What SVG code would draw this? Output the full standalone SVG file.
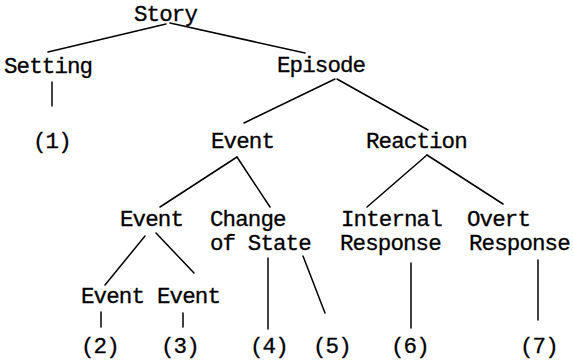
<svg xmlns="http://www.w3.org/2000/svg" width="573" height="361" viewBox="0 0 573 361">
<style>
text{font-family:"Liberation Mono","Courier New",monospace;font-size:22.5px;letter-spacing:-0.9px;fill:#000;stroke:#000;stroke-width:0.3}
.c line{stroke:#000;stroke-width:1.5;stroke-linecap:round}
</style>
<rect width="573" height="361" fill="#fff"/>
<g class="c" id="connectors">
<line x1="166" y1="24" x2="48" y2="52"/>
<line x1="170" y1="23" x2="305" y2="53"/>
<line x1="52" y1="82" x2="52" y2="106"/>
<line x1="335" y1="79" x2="244" y2="123"/>
<line x1="337" y1="79" x2="428" y2="130"/>
<line x1="237" y1="157" x2="160" y2="207"/>
<line x1="237" y1="157" x2="270" y2="207"/>
<line x1="427" y1="155" x2="367" y2="207"/>
<line x1="427" y1="155" x2="503" y2="204"/>
<line x1="145" y1="236" x2="105" y2="285"/>
<line x1="156" y1="233" x2="194" y2="273"/>
<line x1="268" y1="258" x2="268" y2="329"/>
<line x1="303" y1="256" x2="325" y2="313"/>
<line x1="411" y1="263" x2="411" y2="328"/>
<line x1="538" y1="260" x2="538" y2="320"/>
<line x1="101" y1="312" x2="101" y2="327" stroke-width="1.2"/>
<line x1="183" y1="313" x2="183" y2="327" stroke-width="1.2"/>
</g>
<g id="story"><text x="134" y="21">Story</text></g>
<g id="setting"><text x="4" y="73">Setting</text></g>
<g id="episode"><text x="277" y="72">Episode</text></g>
<g id="t1"><text x="33" y="148">(1)</text></g>
<g id="event1"><text x="211" y="148">Event</text></g>
<g id="reaction"><text x="366" y="148">Reaction</text></g>
<g id="event2"><text x="120" y="226">Event</text></g>
<g id="change"><text x="210" y="226">Change</text><text x="210" y="250">of State</text></g>
<g id="internal"><text x="341" y="226">Internal</text><text x="340" y="250">Response</text></g>
<g id="overt"><text x="467" y="226">Overt</text><text x="469" y="250">Response</text></g>
<g id="event3"><text x="81" y="303">Event</text></g>
<g id="event4"><text x="157" y="303">Event</text></g>
<g id="t2"><text x="81" y="353">(2)</text></g>
<g id="t3"><text x="161" y="353">(3)</text></g>
<g id="t4"><text x="250" y="353">(4)</text></g>
<g id="t5"><text x="313" y="353">(5)</text></g>
<g id="t6"><text x="391" y="353">(6)</text></g>
<g id="t7"><text x="520" y="353">(7)</text></g>
</svg>
